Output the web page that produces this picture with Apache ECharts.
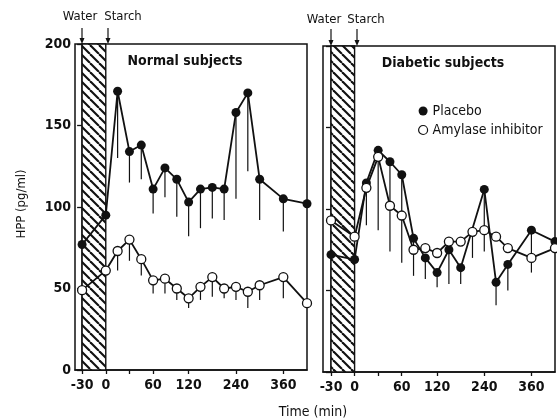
<!DOCTYPE html>
<html>
<head>
<meta charset="utf-8">
<script src="https://cdn.jsdelivr.net/npm/echarts@6/dist/echarts.min.js"></script>
<style>
html,body{margin:0;padding:0;background:#fff;}
#main{width:557px;height:420px;}
</style>
</head>
<body>
<div id="main"></div>
<script>
// time axis is drawn on evenly spaced sampling slots (as in the paper)
var slotTimes = [-30, -15, 0, 15, 30, 45, 60, 80, 100, 120, 150, 180, 210, 240, 270, 300, 330, 360, 390, 420];
var tickTimes = [-30, 0, 30, 60, 120, 240, 360];
var labelTimes = [-30, 0, 60, 120, 240, 360];
var sampleTimes = [-30, 0, 15, 30, 45, 60, 80, 100, 120, 150, 180, 210, 240, 270, 300, 360, 420];

// normal subjects
var normalPlacebo    = [77, 95, 171, 134, 138, 111, 124, 117, 103, 111, 112, 111, 158, 170, 117, 105, 102];
var normalPlaceboLo  = [null, null, 130, 115, 117, 96, 106, 94, 82, 87, 93, 92, 105, 122, 92, 85, null];
var normalAmylase    = [49, 61, 73, 80, 68, 55, 56, 50, 44, 51, 57, 50, 51, 48, 52, 57, 41];
var normalAmylaseLo  = [null, null, 61, 67, 58, 47, 47, 43, 38, 43, 45, 44, 43, 38, 43, 44, null];

// diabetic subjects
var diabPlacebo      = [72, 69, 116, 136, 129, 121, 82, 70, 61, 75, 64, null, 112, 55, 66, 87, 80];
var diabPlaceboLo    = [null, null, 90, null, 74, 67, 59, 57, 52, 54, 54, null, 74, 41, 50, 61, null];
var diabAmylase      = [93, 83, 113, 132, 102, 96, 75, 76, 73, 80, 80, 86, 87, 83, 76, 70, 76];
var diabAmylaseLo    = [null, null, null, 87, null, null, null, null, null, null, null, 70, null, null, null, null, null];

function slot(t) { return slotTimes.indexOf(t); }
function pts(vals) {
  var out = [];
  sampleTimes.forEach(function (t, i) { if (vals[i] != null) out.push([slot(t), vals[i]]); });
  return out;
}
function bars(vals, lows) {
  var out = [];
  sampleTimes.forEach(function (t, i) { if (vals[i] != null && lows[i] != null) out.push([slot(t), vals[i], lows[i]]); });
  return out;
}

// hatching for the water/starch interval
var hatch = document.createElement('canvas');
hatch.width = 9; hatch.height = 9;
var hc = hatch.getContext('2d');
hc.fillStyle = '#fff'; hc.fillRect(0, 0, 9, 9);
hc.strokeStyle = '#111'; hc.lineWidth = 2.1;
[-9, 0, 9].forEach(function (k) { hc.beginPath(); hc.moveTo(k, 0); hc.lineTo(k + 9, 9); hc.stroke(); });

var font = "'Liberation Sans Narrow', 'DejaVu Sans Condensed', 'Liberation Sans', sans-serif";
var ink = '#111';

function xAxis(idx, min) {
  return {
    type: 'value', gridIndex: idx, min: min, max: 19,
    axisLine: {show: true, lineStyle: {color: ink, width: 1.5}},
    axisTick: {show: true, length: 4, lineStyle: {color: ink, width: 1.3}, customValues: tickTimes.map(slot)},
    axisLabel: {
      show: true, color: ink, fontFamily: font, fontWeight: 'bold', fontSize: 14, margin: 8,
      customValues: labelTimes.map(slot),
      formatter: function (v) { return String(slotTimes[Math.round(v)]); }
    },
    splitLine: {show: false}
  };
}
function yAxis(idx, labels) {
  return {
    type: 'value', gridIndex: idx, min: 0, max: 200, interval: 50,
    axisLine: {show: true, lineStyle: {color: ink, width: 1.5}},
    axisTick: {show: true, length: 5, lineStyle: {color: ink, width: 1.3}},
    axisLabel: {show: labels, color: ink, fontFamily: font, fontWeight: 'bold', fontSize: 14, margin: 4},
    splitLine: {show: false}
  };
}

function lineSeries(name, data, idx, open) {
  return {
    name: name, type: 'line', xAxisIndex: idx, yAxisIndex: idx, data: data,
    symbol: 'circle', symbolSize: 9, z: 5,
    lineStyle: {color: ink, width: 1.8},
    itemStyle: {color: open ? '#fff' : ink, borderColor: ink, borderWidth: open ? 1.3 : 0},
    animation: false
  };
}
function errSeries(data, idx, area) {
  var s = {
    type: 'custom', xAxisIndex: idx, yAxisIndex: idx, data: data, z: 2, silent: true,
    renderItem: function (params, api) {
      var a = api.coord([api.value(0), api.value(1)]);
      var b = api.coord([api.value(0), api.value(2)]);
      return {type: 'line', shape: {x1: a[0], y1: a[1], x2: b[0], y2: b[1]}, style: {stroke: ink, lineWidth: 1.2}};
    },
    animation: false
  };
  if (area) {
    s.markArea = {
      silent: true,
      itemStyle: {color: {image: hatch, repeat: 'repeat'}, borderColor: ink, borderWidth: 1.4},
      data: [[{xAxis: slot(-30), yAxis: 0}, {xAxis: slot(0), yAxis: 200}]]
    };
  }
  return s;
}

function arrow(x, y1, y2) {
  return [
    {type: 'line', shape: {x1: x, y1: y1, x2: x, y2: y2 - 4}, style: {stroke: ink, lineWidth: 1.2}},
    {type: 'polygon', shape: {points: [[x - 2.5, y2 - 6], [x + 2.5, y2 - 6], [x, y2]]}, style: {fill: ink}}
  ];
}
function txt(x, y, s, size, bold, align) {
  return {type: 'text', x: x, y: y, style: {text: s, fill: ink, font: (bold ? 'bold ' : '') + size + 'px ' + font, textAlign: align || 'center', textVerticalAlign: 'middle'}};
}

var graphics = []
  .concat(arrow(82, 28, 44), arrow(108, 28, 44), arrow(331, 29, 46), arrow(357, 29, 46))
  .concat([
    txt(80, 17, 'Water', 13), txt(123, 17, 'Starch', 13),
    txt(324, 20, 'Water', 13), txt(366, 20, 'Starch', 13),
    txt(185, 61, 'Normal subjects', 14, true),
    txt(443, 63, 'Diabetic subjects', 14, true),
    txt(313, 412, 'Time (min)', 14),
    {type: 'text', x: 22, y: 204, rotation: Math.PI / 2,
     style: {text: 'HPP (pg/ml)', fill: ink, font: '13px ' + font, textAlign: 'center', textVerticalAlign: 'middle'}}
  ]);

var chart = echarts.init(document.getElementById('main'));
chart.setOption({
  backgroundColor: '#fff',
  animation: false,
  legend: {
    orient: 'vertical', left: 413, top: 99, itemWidth: 9, itemHeight: 9, itemGap: 5,
    textStyle: {color: ink, fontFamily: font, fontSize: 14},
    data: [
      {name: 'Placebo', icon: 'circle', itemStyle: {color: ink}},
      {name: 'Amylase inhibitor', icon: 'circle', itemStyle: {color: '#fff', borderColor: ink, borderWidth: 1.2}}
    ]
  },
  grid: [
    {left: 75, top: 44, width: 232, height: 326, show: true, borderColor: ink, borderWidth: 1.5},
    {left: 323, top: 46, width: 232, height: 326, show: true, borderColor: ink, borderWidth: 1.5}
  ],
  xAxis: [xAxis(0, -0.6), xAxis(1, -0.68)],
  yAxis: [yAxis(0, true), yAxis(1, false)],
  series: [
    errSeries(bars(normalPlacebo, normalPlaceboLo), 0, true),
    errSeries(bars(normalAmylase, normalAmylaseLo), 0, false),
    lineSeries('Placebo', pts(normalPlacebo), 0, false),
    lineSeries('Amylase inhibitor', pts(normalAmylase), 0, true),
    errSeries(bars(diabPlacebo, diabPlaceboLo), 1, true),
    errSeries(bars(diabAmylase, diabAmylaseLo), 1, false),
    lineSeries('Placebo', pts(diabPlacebo), 1, false),
    lineSeries('Amylase inhibitor', pts(diabAmylase), 1, true)
  ],
  graphic: graphics
});
</script>
</body>
</html>
